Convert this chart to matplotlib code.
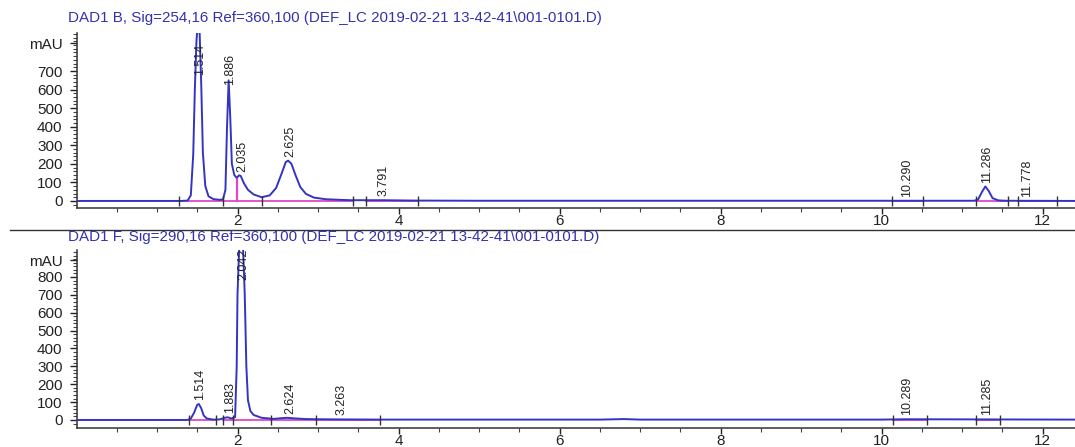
import numpy as np
import matplotlib
matplotlib.use("Agg")
import matplotlib.pyplot as plt
from matplotlib.lines import Line2D

# ---- signal B (254 nm) : trace ----
top_time = [0.0, 1.30, 1.38, 1.42, 1.45, 1.47, 1.49, 1.50, 1.514, 1.53, 1.55, 1.57,
            1.60, 1.64, 1.70, 1.78, 1.82, 1.85, 1.87, 1.89, 1.91, 1.93, 1.96, 1.99,
            2.02, 2.04, 2.08, 2.13, 2.20, 2.30, 2.40, 2.48, 2.55, 2.60, 2.63, 2.67,
            2.72, 2.78, 2.85, 2.95, 3.10, 3.40, 3.80, 4.20, 5.00, 11.15, 11.20,
            11.25, 11.29, 11.33, 11.38, 11.45, 11.55, 12.40]
top_mau = [0, 0, 2, 30, 250, 600, 860, 920, 960, 900, 620, 260,
           80, 25, 10, 6, 8, 60, 400, 650, 450, 200, 140, 125,
           138, 135, 95, 60, 35, 20, 30, 70, 150, 210, 217, 200,
           140, 75, 38, 18, 9, 4, 4, 2, 1, 1, 8,
           50, 78, 55, 15, 3, 1, 0]
top_peak_rt = [1.514, 1.886, 2.035, 2.625, 3.791, 10.290, 11.286, 11.778]
top_peak_lbl = ["1.514", "1.886", "2.035", "2.625", "3.791", "10.290", "11.286", "11.778"]
top_base_start = [1.27, 1.82, 1.99, 2.30, 3.60, 10.13, 11.17, 11.70]
top_base_end = [1.82, 1.99, 2.30, 3.44, 4.24, 10.51, 11.57, 12.18]
top_drop = [1.99]

# ---- signal F (290 nm) ----
bot_time = [0.0, 1.38, 1.42, 1.46, 1.50, 1.52, 1.55, 1.58, 1.62, 1.70, 1.78, 1.84,
            1.88, 1.92, 1.97, 1.99, 2.00, 2.02, 2.045, 2.07, 2.09, 2.11, 2.13, 2.16,
            2.20, 2.30, 2.45, 2.55, 2.62, 2.70, 2.85, 3.00, 3.30, 3.80, 4.50, 6.50,
            6.80, 7.00, 10.00, 10.30, 11.30, 12.40]
bot_mau = [0, 0, 8, 40, 85, 89, 65, 25, 8, 2, 3, 12,
           15, 8, 15, 300, 700, 950, 990, 950, 700, 300, 110, 50,
           28, 12, 6, 10, 12, 9, 5, 4, 3, 2, 2, 2,
           5, 2, 2, 4, 3, 2]
bot_peak_rt = [1.514, 1.883, 2.042, 2.624, 3.263, 10.289, 11.285]
bot_peak_lbl = ["1.514", "1.883", "2.042", "2.624", "3.263", "10.289", "11.285"]
bot_base_start = [1.40, 1.82, 1.95, 2.42, 2.98, 10.14, 11.18]
bot_base_end = [1.73, 1.95, 2.42, 2.98, 3.77, 10.56, 11.47]
bot_drop = []

top_title = r"DAD1 B, Sig=254,16 Ref=360,100 (DEF_LC 2019-02-21 13-42-41\001-0101.D)"
bot_title = r"DAD1 F, Sig=290,16 Ref=360,100 (DEF_LC 2019-02-21 13-42-41\001-0101.D)"

W, H = 1075, 447
TRACE = "#3434c4"
BASE = "#e048c8"
TITLE = "#3232b0"


def px_box(left, top, right, bottom):
    return [left / W, 1 - bottom / H, (right - left) / W, (bottom - top) / H]


def panel(fig, box, t, v, rts, lbls, b0, b1, drops, ylim, ymax_tick, mau_at, cap, title, title_y):
    ax = fig.add_axes(px_box(*box))
    ax.plot(t, v, color=TRACE, lw=1.4, zorder=3)
    # integration baselines
    for s, e in zip(b0, b1):
        ax.plot([s, e], [0, 0], color=BASE, lw=1.3, zorder=2)
    ends = sorted(set(b0) | set(b1))
    ends = [x for x in ends if x not in drops]
    ax.plot(ends, [0] * len(ends), ls="none", marker="|", ms=7, mew=1.0,
            color="#333333", zorder=4)
    for d in drops:
        ax.plot([d, d], [0, np.interp(d, t, v)], color=BASE, lw=1.6, zorder=2)
    # peak labels
    for rt, lb in zip(rts, lbls):
        y = min(np.interp(rt, t, v), cap)
        ax.annotate(lb, xy=(rt, y), xytext=(1.5, 3), textcoords="offset points",
                    rotation=90, ha="center", va="bottom", fontsize=9,
                    color="#222222", zorder=5)

    ax.set_xlim(0, (1075 - 76.5) / 80.5)
    ax.set_ylim(*ylim)
    ax.set_xticks([2, 4, 6, 8, 10, 12])
    ax.set_xticks(np.arange(0.5, 12.5, 0.5), minor=True)
    yt = list(range(0, ymax_tick + 1, 100)) + [mau_at]
    ax.set_yticks(yt)
    ax.set_yticklabels([str(x) for x in yt[:-1]] + ["mAU"])
    ax.set_yticks(np.arange(-20, ylim[1], 20), minor=True)
    ax.tick_params(axis="both", which="major", direction="out", length=5,
                   width=1, labelsize=11, colors="#222222")
    ax.tick_params(axis="x", which="major", length=4, pad=0)
    ax.tick_params(axis="y", which="major", pad=5)
    ax.tick_params(axis="both", which="minor", direction="out", length=3, width=0.8,
                   colors="#444444")
    for s in ["top", "right"]:
        ax.spines[s].set_visible(False)
    for s in ["left", "bottom"]:
        ax.spines[s].set_color("#333333")
        ax.spines[s].set_linewidth(1.1)
    fig.text(68 / W, 1 - title_y / H, title, color=TITLE, fontsize=10.9,
             ha="left", va="center")
    return ax


def main():
    plt.rcParams["font.family"] = ["Liberation Sans", "DejaVu Sans"]
    fig = plt.figure(figsize=(W / 100, H / 100), dpi=100)

    panel(fig, (76.5, 33, 1075, 208), top_time, top_mau, top_peak_rt, top_peak_lbl,
          top_base_start, top_base_end, top_drop, (-38, 905), 700, 850, 655,
          top_title, 18)
    panel(fig, (76.5, 250, 1075, 428), bot_time, bot_mau, bot_peak_rt, bot_peak_lbl,
          bot_base_start, bot_base_end, bot_drop, (-45, 951), 800, 895, 760,
          bot_title, 237)

    # separator between the two signals
    fig.add_artist(Line2D([10 / W, 1], [1 - 230 / H, 1 - 230 / H], color="#333333", lw=1))

    fig.savefig("out.png", dpi=100)


if __name__ == "__main__":
    main()
